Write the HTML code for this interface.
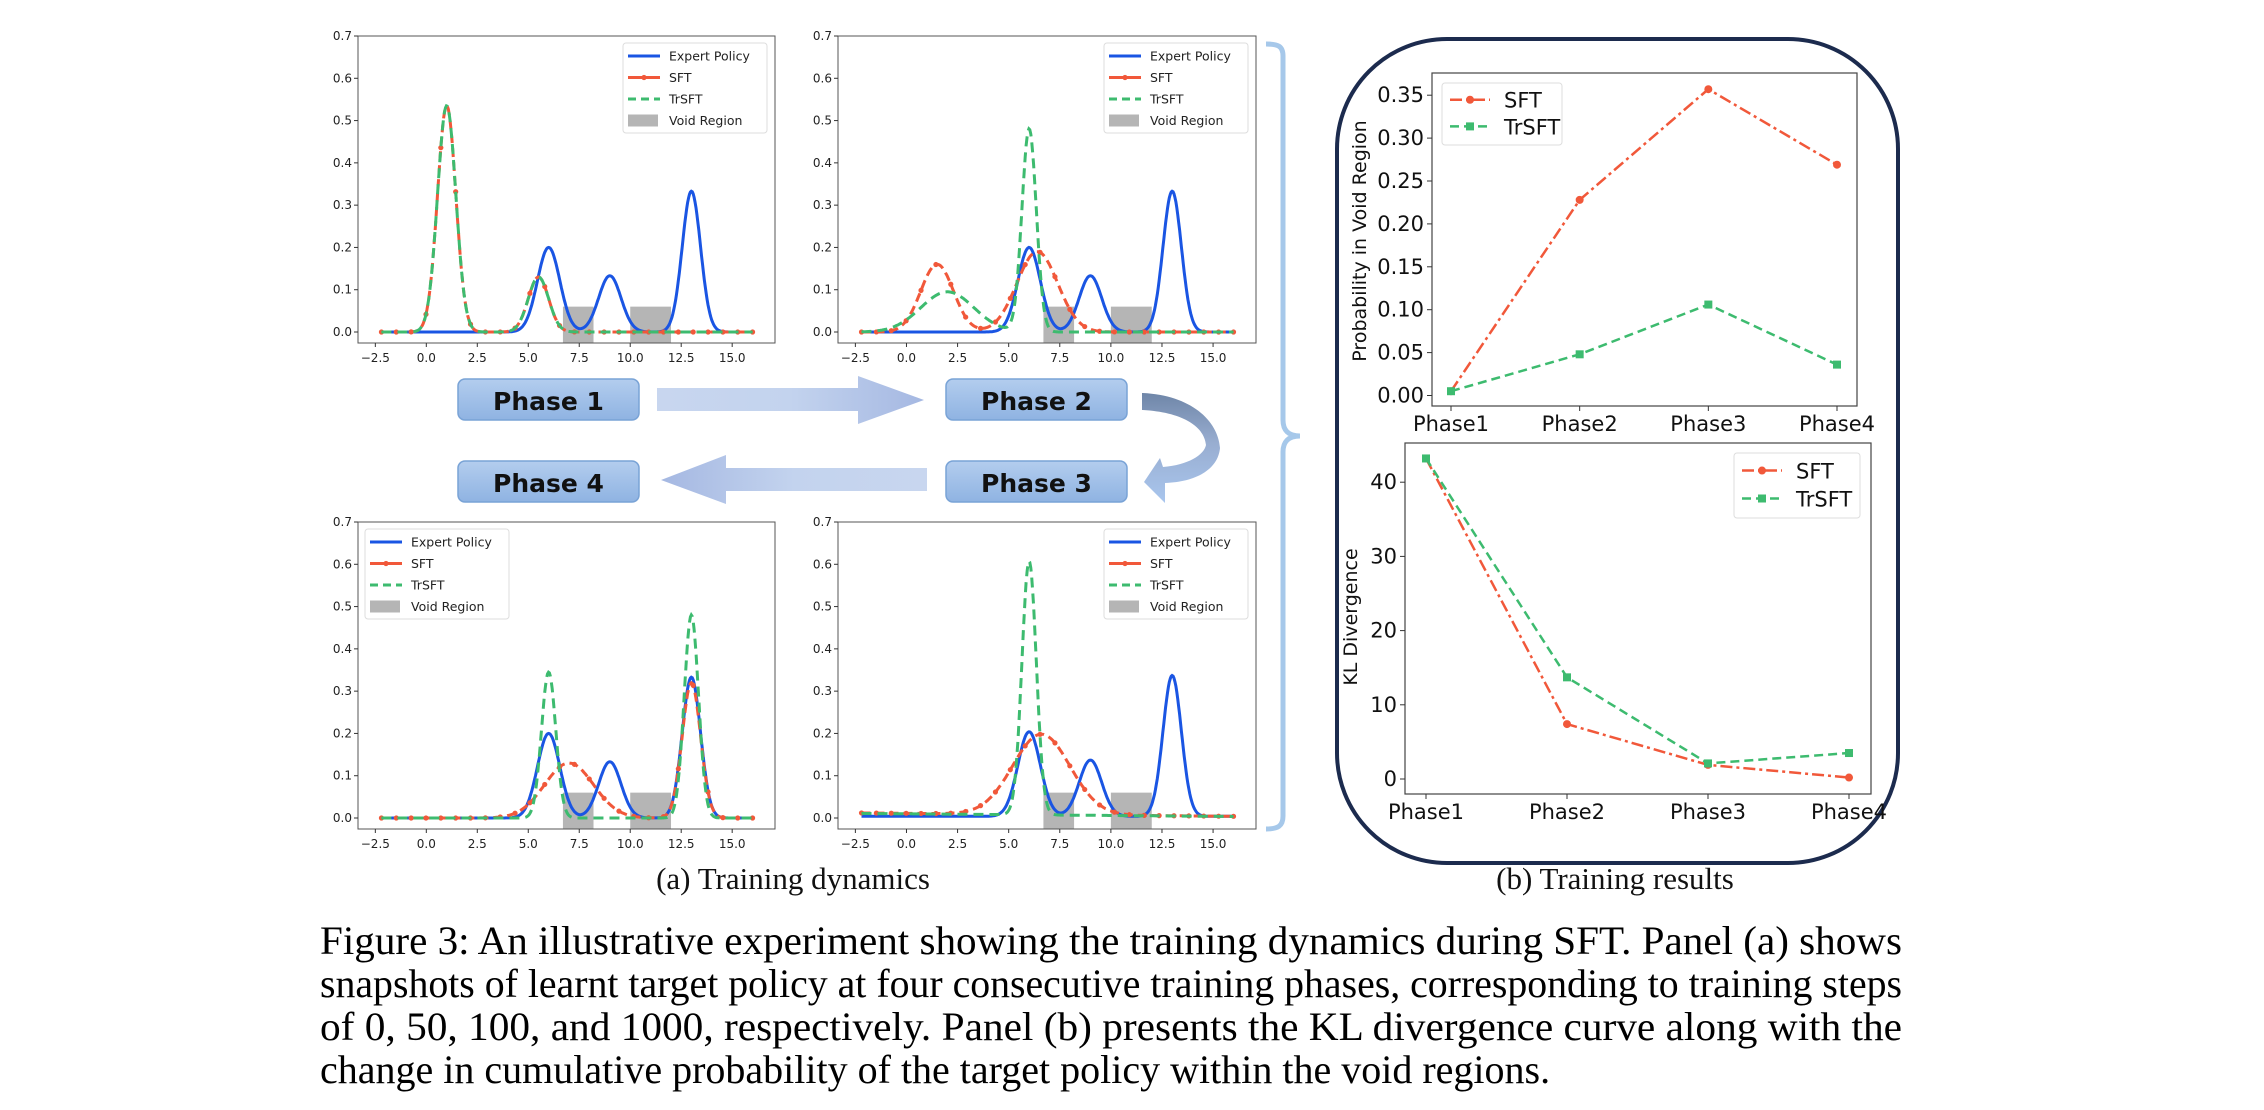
<!DOCTYPE html>
<html><head><meta charset="utf-8"><style>
html,body{margin:0;padding:0;background:#fff;}
svg{display:block;}
</style></head><body>
<svg id="fig" xmlns="http://www.w3.org/2000/svg" width="2264" height="1110" viewBox="0 0 2264 1110">
<defs>
<linearGradient id="boxg" x1="0" y1="0" x2="0" y2="1"><stop offset="0" stop-color="#b3cdee"/><stop offset="1" stop-color="#8fb3e2"/></linearGradient>
<linearGradient id="arrR" x1="0" y1="0" x2="1" y2="0"><stop offset="0" stop-color="#c8d6ef"/><stop offset="0.5" stop-color="#c3d3ee"/><stop offset="1" stop-color="#a5b8e2"/></linearGradient>
<linearGradient id="arrL" x1="1" y1="0" x2="0" y2="0"><stop offset="0" stop-color="#c8d6ef"/><stop offset="0.5" stop-color="#c3d3ee"/><stop offset="1" stop-color="#a5b8e2"/></linearGradient>
<linearGradient id="arrC" x1="0" y1="0" x2="0" y2="1"><stop offset="0" stop-color="#6f86a8"/><stop offset="0.45" stop-color="#98add0"/><stop offset="1" stop-color="#a9c6ee"/></linearGradient>
</defs>
<g id="chartsA"></g>
<g id="flow">
  <path d="M657,388 H858 V376 L924,400 L858,424 V411 H657 Z" fill="url(#arrR)"/>
  <path d="M927,468 H726 V455 L661,480 L726,504 V491 H927 Z" fill="url(#arrL)"/>
  <path d="M1142,393 C1190,395 1218,420 1220,448 C1218,470 1195,482 1165,483 L1165,503 L1144,482 L1160,458 L1163,467 C1188,465 1204,455 1206,445 C1204,425 1180,412 1142,410 Z" fill="url(#arrC)"/>
  <g><rect x="458" y="379" width="181" height="41" rx="7" fill="url(#boxg)" stroke="#79a3d6" stroke-width="1.5"/><text x="548.5" y="410" text-anchor="middle" font-family="DejaVu Sans, sans-serif" font-weight="bold" font-size="25" fill="#111">Phase 1</text></g>
  <g><rect x="946" y="379" width="181" height="41" rx="7" fill="url(#boxg)" stroke="#79a3d6" stroke-width="1.5"/><text x="1036.5" y="410" text-anchor="middle" font-family="DejaVu Sans, sans-serif" font-weight="bold" font-size="25" fill="#111">Phase 2</text></g>
  <g><rect x="458" y="461" width="181" height="41" rx="7" fill="url(#boxg)" stroke="#79a3d6" stroke-width="1.5"/><text x="548.5" y="492" text-anchor="middle" font-family="DejaVu Sans, sans-serif" font-weight="bold" font-size="25" fill="#111">Phase 4</text></g>
  <g><rect x="946" y="461" width="181" height="41" rx="7" fill="url(#boxg)" stroke="#79a3d6" stroke-width="1.5"/><text x="1036.5" y="492" text-anchor="middle" font-family="DejaVu Sans, sans-serif" font-weight="bold" font-size="25" fill="#111">Phase 3</text></g>
</g>
<path d="M1266,44 C1278,44 1283,46 1283,56 V420 C1283,430 1288,436 1300,436 C1288,436 1283,442 1283,452 V816 C1283,826 1278,829 1266,829" fill="none" stroke="#a6c8ea" stroke-width="5"/>
<rect x="1337" y="39" width="561" height="824" rx="110" ry="110" fill="none" stroke="#1c2b4e" stroke-width="4"/>
<g id="chartsB"></g>
<text x="793" y="889" text-anchor="middle" font-family="Liberation Serif, serif" font-size="31" fill="#111">(a) Training dynamics</text>
<text x="1615" y="889" text-anchor="middle" font-family="Liberation Serif, serif" font-size="31" fill="#111">(b) Training results</text>
<g font-family="Liberation Serif, serif" font-size="40" fill="#000">
  <text x="320" y="954" textLength="1582" lengthAdjust="spacingAndGlyphs">Figure 3:  An illustrative experiment showing the training dynamics during SFT. Panel (a) shows</text>
  <text x="320" y="997" textLength="1582" lengthAdjust="spacingAndGlyphs">snapshots of learnt target policy at four consecutive training phases, corresponding to training steps</text>
  <text x="320" y="1040" textLength="1582" lengthAdjust="spacingAndGlyphs">of 0, 50, 100, and 1000, respectively.  Panel (b) presents the KL divergence curve along with the</text>
  <text x="320" y="1083">change in cumulative probability of the target policy within the void regions.</text>
</g>
</svg>
<script>
// ---------- Panel (a) data: gaussian components (mean, height, sigma) ----------
var expertMeans = [6, 9, 13];
var expertHeights = [0.2, 0.133, 0.333];
var expertSigmas = [0.55, 0.55, 0.45];
var voidStarts = [6.7, 10.0];
var voidEnds = [8.2, 12.0];
var phaseNames = ['phase-1', 'phase-2', 'phase-4', 'phase-3'];
var sftMeansP1 = [1.0, 5.5]; var sftHeightsP1 = [0.535, 0.13]; var sftSigmasP1 = [0.45, 0.5];
var trsftMeansP1 = [1.0, 5.5]; var trsftHeightsP1 = [0.535, 0.13]; var trsftSigmasP1 = [0.45, 0.5];
var sftMeansP2 = [1.5, 6.4]; var sftHeightsP2 = [0.16, 0.19]; var sftSigmasP2 = [0.8, 1.0];
var trsftMeansP2 = [2.0, 6.0]; var trsftHeightsP2 = [0.095, 0.48]; var trsftSigmasP2 = [1.3, 0.35];
var sftMeansP4 = [7.0, 13.0]; var sftHeightsP4 = [0.13, 0.32]; var sftSigmasP4 = [1.2, 0.45];
var trsftMeansP4 = [6.0, 13.0]; var trsftHeightsP4 = [0.345, 0.48]; var trsftSigmasP4 = [0.35, 0.35];
var sftMeansP3 = [6.6]; var sftHeightsP3 = [0.19]; var sftSigmasP3 = [1.4];
var trsftMeansP3 = [6.0]; var trsftHeightsP3 = [0.6]; var trsftSigmasP3 = [0.35];
var baseP3 = [0.012, 0.004];
var xTicks = [-2.5, 0.0, 2.5, 5.0, 7.5, 10.0, 12.5, 15.0];
var xTickLabels = ['\u2212' + '2.5', '0.0', '2.5', '5.0', '7.5', '10.0', '12.5', '15.0'];
var yTicks = [0.0, 0.1, 0.2, 0.3, 0.4, 0.5, 0.6, 0.7];
var yTickLabels = ['0.0', '0.1', '0.2', '0.3', '0.4', '0.5', '0.6', '0.7'];

// ---------- Panel (b) data ----------
var phases = ['Phase1', 'Phase2', 'Phase3', 'Phase4'];
var voidSFT = [0.005, 0.228, 0.357, 0.269];
var voidTrSFT = [0.005, 0.048, 0.106, 0.036];
var voidTicks = [0.00, 0.05, 0.10, 0.15, 0.20, 0.25, 0.30, 0.35];
var voidTickLabels = ['0.00', '0.05', '0.10', '0.15', '0.20', '0.25', '0.30', '0.35'];
var klSFT = [43.2, 7.4, 1.9, 0.2];
var klTrSFT = [43.2, 13.7, 2.1, 3.5];
var klTicks = [0, 10, 20, 30, 40];
var klTickLabels = ['0', '10', '20', '30', '40'];

var SVGNS = 'http://www.w3.org/2000/svg';
var BLUE = '#1a55e3', RED = '#f1583a', GREEN = '#3dbb6f';
function mk(tag, attrs, parent) {
  var e = document.createElementNS(SVGNS, tag);
  for (var k in attrs) { e.setAttribute(k, String(attrs[k])); }
  if (parent) { parent.appendChild(e); }
  return e;
}
function mix(x, means, heights, sigmas) {
  var s = 0;
  for (var i = 0; i < means.length; i++) {
    var d = x - means[i];
    s += heights[i] * Math.exp(-(d * d) / (2 * sigmas[i] * sigmas[i]));
  }
  return s;
}

var framesA = [[358, 36, 775, 343], [838, 36, 1256, 343], [358, 522, 775, 829], [838, 522, 1256, 829]];
var legendLeft = [false, false, true, false];
var comps = [
  [sftMeansP1, sftHeightsP1, sftSigmasP1, trsftMeansP1, trsftHeightsP1, trsftSigmasP1, null],
  [sftMeansP2, sftHeightsP2, sftSigmasP2, trsftMeansP2, trsftHeightsP2, trsftSigmasP2, null],
  [sftMeansP4, sftHeightsP4, sftSigmasP4, trsftMeansP4, trsftHeightsP4, trsftSigmasP4, null],
  [sftMeansP3, sftHeightsP3, sftSigmasP3, trsftMeansP3, trsftHeightsP3, trsftSigmasP3, baseP3]
];

function drawDensity(p, root) {
  var fL = framesA[p][0], fT = framesA[p][1], fR = framesA[p][2], fB = framesA[p][3];
  var g = mk('g', {}, root);
  
  
  var x0 = -3.35, x1 = 17.1, y0 = -0.026, y1 = 0.7;
  function sx(v) { return fL + (v - x0) / (x1 - x0) * (fR - fL); }
  function sy(v) { return fB - (v - y0) / (y1 - y0) * (fB - fT); }
  for (var i = 0; i < voidStarts.length; i++) {
    var r = mk('rect', {x: sx(voidStarts[i]), y: sy(0.06), width: sx(voidEnds[i]) - sx(voidStarts[i]), height: fB - sy(0.06), fill: '#b5b5b5'}, g);
    
    
  }
  var c = comps[p];
  function base(x) { return c[6] ? (c[6][0] + (c[6][1] - c[6][0]) * (x + 2.2) / 18.2) : 0; }
  function fe(x) { return mix(x, expertMeans, expertHeights, expertSigmas) + (c[6] ? 0.004 : 0); }
  function fs(x) { return mix(x, c[0], c[1], c[2]) + base(x); }
  function ft(x) { return mix(x, c[3], c[4], c[5]) + base(x) * 0.9; }
  var N = 400;
  function curve(fn) {
    var d = '';
    for (var i = 0; i <= N; i++) {
      var x = -2.2 + 18.2 * i / N;
      d += (i ? 'L' : 'M') + sx(x).toFixed(1) + ',' + sy(fn(x)).toFixed(1);
    }
    return d;
  }
  var le = mk('path', {d: curve(fe), fill: 'none', stroke: BLUE, 'stroke-width': 3}, g);
  
  
  var ls = mk('path', {d: curve(fs), fill: 'none', stroke: RED, 'stroke-width': 3, 'stroke-dasharray': '9,5'}, g);
  
  
  for (var j = 0; j <= 25; j++) {
    var xm = -2.2 + 18.2 * j / 25;
    var m = mk('circle', {cx: sx(xm), cy: sy(fs(xm)), r: 2.6, fill: RED}, g);
    
    
  }
  var lt = mk('path', {d: curve(ft), fill: 'none', stroke: GREEN, 'stroke-width': 3, 'stroke-dasharray': '10,6'}, g);
  
  
  var fr = mk('rect', {x: fL, y: fT, width: fR - fL, height: fB - fT, fill: 'none', stroke: '#555', 'stroke-width': 1}, g);
  
  
  for (var a = 0; a < xTicks.length; a++) {
    mk('line', {x1: sx(xTicks[a]), x2: sx(xTicks[a]), y1: fB, y2: fB + 4, stroke: '#333'}, g);
    var t = mk('text', {x: sx(xTicks[a]), y: fB + 19, 'text-anchor': 'middle', 'font-family': 'DejaVu Sans, sans-serif', 'font-size': 12, fill: '#222'}, g);
    t.textContent = xTickLabels[a];
    
    
  }
  for (var b = 0; b < yTicks.length; b++) {
    mk('line', {x1: fL - 4, x2: fL, y1: sy(yTicks[b]), y2: sy(yTicks[b]), stroke: '#333'}, g);
    var t2 = mk('text', {x: fL - 6, y: sy(yTicks[b]) + 4, 'text-anchor': 'end', 'font-family': 'DejaVu Sans, sans-serif', 'font-size': 12, fill: '#222'}, g);
    t2.textContent = yTickLabels[b];
    
    
  }
  var lx = legendLeft[p] ? fL + 7 : fR - 152, ly = fT + 7;
  var lg = mk('g', {}, g);
  
  
  mk('rect', {x: lx, y: ly, width: 144, height: 90, rx: 3, fill: '#fff', stroke: '#ddd'}, lg);
  var labels = ['Expert Policy', 'SFT', 'TrSFT', 'Void Region'];
  for (var k = 0; k < 4; k++) {
    var yy = ly + 13 + k * 21.5;
    if (k === 0) { mk('line', {x1: lx + 5, x2: lx + 37, y1: yy, y2: yy, stroke: BLUE, 'stroke-width': 3}, lg); }
    if (k === 1) { mk('line', {x1: lx + 5, x2: lx + 37, y1: yy, y2: yy, stroke: RED, 'stroke-width': 3}, lg); mk('circle', {cx: lx + 21, cy: yy, r: 2.6, fill: RED}, lg); }
    if (k === 2) { mk('line', {x1: lx + 5, x2: lx + 37, y1: yy, y2: yy, stroke: GREEN, 'stroke-width': 3, 'stroke-dasharray': '8,5'}, lg); }
    if (k === 3) { mk('rect', {x: lx + 5, y: yy - 6, width: 30, height: 12, fill: '#b5b5b5'}, lg); }
    var tl = mk('text', {x: lx + 46, y: yy + 4.5, 'font-family': 'DejaVu Sans, sans-serif', 'font-size': 12.5, fill: '#222'}, lg);
    tl.textContent = labels[k];
    
    
  }
}

function lineChart(root, chartName, frame, xFirst, xLast, yZeroPx, pxPerUnit, ticks, tickLabels, s1, s2, ylabel, ylx, yly, legend) {
  var fL = frame[0], fT = frame[1], fR = frame[2], fB = frame[3];
  var g = mk('g', {}, root);
  
  
  function px(i) { return xFirst + (xLast - xFirst) * i / (phases.length - 1); }
  function py(v) { return yZeroPx - v * pxPerUnit; }
  var fr = mk('rect', {x: fL, y: fT, width: fR - fL, height: fB - fT, fill: 'none', stroke: '#444', 'stroke-width': 1.2}, g);
  
  
  for (var i = 0; i < ticks.length; i++) {
    mk('line', {x1: fL - 5, x2: fL, y1: py(ticks[i]), y2: py(ticks[i]), stroke: '#333'}, g);
    var t = mk('text', {x: fL - 8, y: py(ticks[i]) + 7, 'text-anchor': 'end', 'font-family': 'DejaVu Sans, sans-serif', 'font-size': 21, fill: '#111'}, g);
    t.textContent = tickLabels[i];
    
    
  }
  for (var j = 0; j < phases.length; j++) {
    mk('line', {x1: px(j), x2: px(j), y1: fB, y2: fB + 5, stroke: '#333'}, g);
    var tx = mk('text', {x: px(j), y: fB + 25, 'text-anchor': 'middle', 'font-family': 'DejaVu Sans, sans-serif', 'font-size': 21, fill: '#111'}, g);
    tx.textContent = phases[j];
    
    
  }
  var yl = mk('text', {x: ylx, y: yly, transform: 'rotate(-90 ' + ylx + ' ' + yly + ')', 'text-anchor': 'middle', 'font-family': 'DejaVu Sans, sans-serif', 'font-size': 19, fill: '#111'}, g);
  yl.textContent = ylabel;
  
  
  var pts1 = [], pts2 = [];
  for (var a = 0; a < s1.length; a++) { pts1.push(px(a) + ',' + py(s1[a])); }
  for (var b = 0; b < s2.length; b++) { pts2.push(px(b) + ',' + py(s2[b])); }
  var p1 = mk('polyline', {points: pts1.join(' '), fill: 'none', stroke: RED, 'stroke-width': 2.5, 'stroke-dasharray': '12,4,3,4'}, g);
  
  
  var p2 = mk('polyline', {points: pts2.join(' '), fill: 'none', stroke: GREEN, 'stroke-width': 2.5, 'stroke-dasharray': '9,5'}, g);
  
  
  for (var c = 0; c < s1.length; c++) {
    var m = mk('circle', {cx: px(c), cy: py(s1[c]), r: 4, fill: RED}, g);
    
    
  }
  for (var d = 0; d < s2.length; d++) {
    var q = mk('rect', {x: px(d) - 4, y: py(s2[d]) - 4, width: 8, height: 8, fill: GREEN}, g);
    
    
  }
  var lx = legend[0], ly = legend[1], lw = legend[2], lh = legend[3];
  var lg = mk('g', {}, g);
  
  
  mk('rect', {x: lx, y: ly, width: lw, height: lh, rx: 3, fill: '#fff', stroke: '#ddd'}, lg);
  var r1 = ly + lh * 0.27, r2 = ly + lh * 0.7;
  mk('line', {x1: lx + 8, x2: lx + 48, y1: r1, y2: r1, stroke: RED, 'stroke-width': 2.5, 'stroke-dasharray': '12,4,3,4'}, lg);
  mk('circle', {cx: lx + 28, cy: r1, r: 4, fill: RED}, lg);
  mk('line', {x1: lx + 8, x2: lx + 48, y1: r2, y2: r2, stroke: GREEN, 'stroke-width': 2.5, 'stroke-dasharray': '9,5'}, lg);
  mk('rect', {x: lx + 24, y: r2 - 4, width: 8, height: 8, fill: GREEN}, lg);
  var t1 = mk('text', {x: lx + 62, y: r1 + 8, 'font-family': 'DejaVu Sans, sans-serif', 'font-size': 21, fill: '#111'}, lg);
  t1.textContent = 'SFT';
  
  
  var t2 = mk('text', {x: lx + 62, y: r2 + 8, 'font-family': 'DejaVu Sans, sans-serif', 'font-size': 21, fill: '#111'}, lg);
  t2.textContent = 'TrSFT';
  
  
}

var rootA = document.getElementById('chartsA');
var rootB = document.getElementById('chartsB');
for (var pIdx = 0; pIdx < 4; pIdx++) {
  try { drawDensity(pIdx, rootA); } catch (err) { console.log(err); }
}
try {
  lineChart(rootB, 'void-probability-chart', [1432, 73, 1857, 406], 1451, 1837, 395.5, 42.9 / 0.05, voidTicks, voidTickLabels, voidSFT, voidTrSFT, 'Probability in Void Region', 1366, 241, [1442, 83, 120, 62]);
} catch (err) { console.log(err); }
try {
  lineChart(rootB, 'kl-divergence-chart', [1405, 443, 1871, 794], 1426, 1849, 779, 7.42, klTicks, klTickLabels, klSFT, klTrSFT, 'KL Divergence', 1357, 617, [1734, 453, 126, 65]);
} catch (err) { console.log(err); }
</script>
</body></html>
